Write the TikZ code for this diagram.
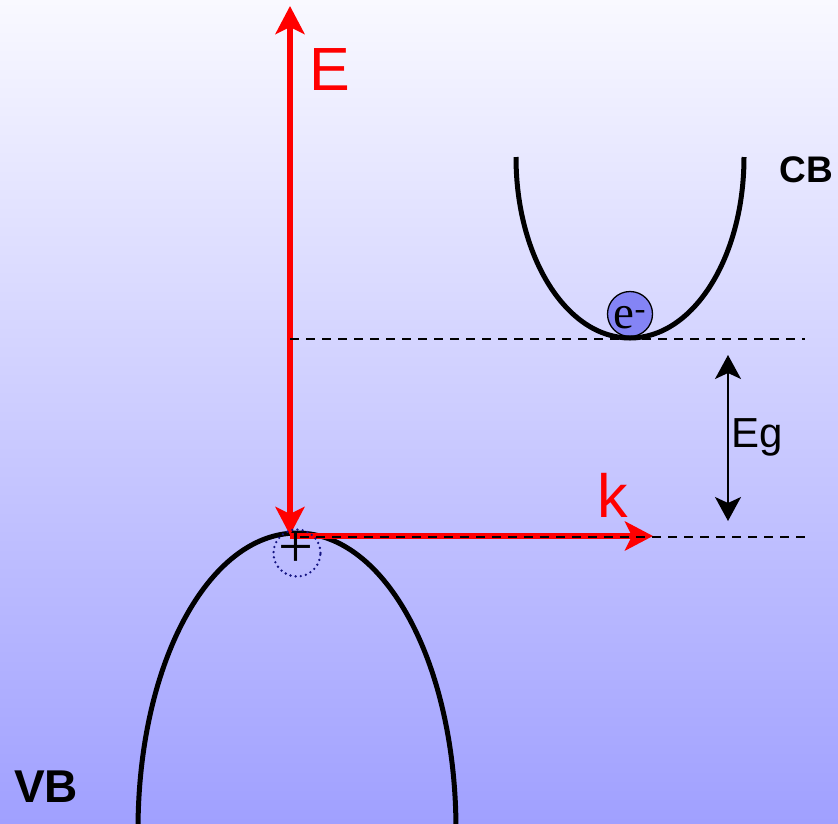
\documentclass[tikz,border=0pt]{standalone}
\usepackage{fontspec}
\setmainfont{Liberation Sans}
\newfontfamily\serifface{Liberation Serif}
\usetikzlibrary{arrows.meta}
\definecolor{bgtop}{RGB}{249,249,255}
\definecolor{bgbot}{RGB}{160,160,255}
\definecolor{elecfill}{RGB}{132,132,245}
\definecolor{holeblue}{RGB}{20,20,130}
\tikzset{
  axisline/.style={draw=red, line width=5.5pt},
  redhead/.style={-{Stealth[length=28pt,width=29pt,inset=7pt]}},
  bandline/.style={draw=black, line width=5pt},
  guide/.style={draw=black, line width=1.8pt, dash pattern=on 9pt off 7pt},
  biglabel/.style={text=red, font=\fontsize{61}{61}\selectfont, inner sep=0pt},
  bandlabel/.style={font=\bfseries\fontsize{#1}{#1}\selectfont, inner sep=0pt},
}
\begin{document}
\begin{tikzpicture}[x=1pt,y=-1pt]
\shade[top color=bgtop,bottom color=bgbot] (0,0) rectangle (838,823);
\useasboundingbox (0,0) rectangle (838,823);
% coordinates
\coordinate (O) at (290,535);
\coordinate (Etop) at (290,6);
\coordinate (kstart) at (290,536);
\coordinate (ktip) at (653,536);
\coordinate (CBline0) at (290,339);
\coordinate (CBline1) at (805,339);
\coordinate (VBline0) at (300,537);
\coordinate (VBline1) at (805,537);
\coordinate (Egtop) at (728,355);
\coordinate (Egbot) at (728,521);
% electron
\node[circle, draw=black, fill=elecfill, line width=1.3pt, minimum size=45pt, inner sep=0pt] (el) at (630,314) {};
\node[font=\serifface\fontsize{47}{47}\selectfont, inner sep=0pt] (eltext) at (630,318) {e\textsuperscript{-}};
% bands
\draw[bandline] (516,157) .. controls (516,258) and (567,338) .. (630,338)
  .. controls (693,338) and (744,258) .. (744,157);
\draw[bandline] (138,830) .. controls (138,663) and (209,533) .. (297,533)
  .. controls (385,533) and (456,663) .. (456,830);
% red axes
\draw[axisline, {Stealth[length=28pt,width=29pt,inset=7pt]}-{Stealth[length=28pt,width=29pt,inset=7pt]}] (Etop) -- (O);
\draw[axisline, redhead] (kstart) -- (ktip);
% dashed guides
\draw[guide] (CBline0) -- (CBline1);
\draw[guide] (VBline0) -- (VBline1);
% Eg arrow
\draw[line width=2pt, {Stealth[length=24pt,width=26pt,inset=6pt]}-{Stealth[length=24pt,width=26pt,inset=6pt]}] (Egtop) -- (Egbot);
% labels
\node[biglabel] (Elab) at (330,70) {E};
\node[biglabel] (klab) at (613,495) {k};
\node[font=\fontsize{42}{42}\selectfont, inner sep=0pt] (Eglab) at (757,437) {Eg};
\node[bandlabel=37] (CBlab) at (806,170) {CB};
\node[bandlabel=46] (VBlab) at (46,787) {VB};
% hole
\node[circle, draw=holeblue, line width=2.6pt, line cap=round, dash pattern=on 0pt off 5.2pt, minimum size=47pt, inner sep=0pt] (hole) at (297,553) {};
\node[font=\serifface\fontsize{62}{62}\selectfont, inner sep=0pt] (plus) at (296,550) {+};
\end{tikzpicture}
\end{document}
